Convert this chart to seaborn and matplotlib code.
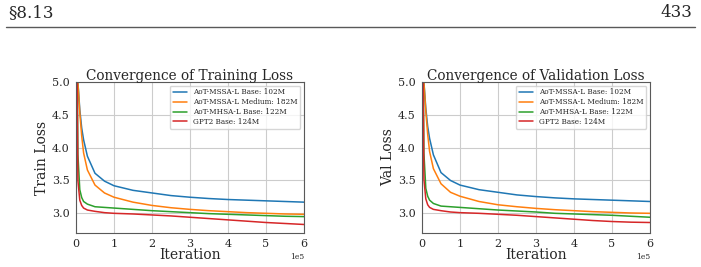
import numpy as np
import pandas as pd
import matplotlib.pyplot as plt
import seaborn as sns

iters = [0, 0.05, 0.1, 0.15, 0.2, 0.3, 0.5, 0.75, 1, 1.5, 2, 2.5, 3, 3.5, 4, 4.5, 5, 5.5, 6]

models = ["AoT-MSSA-L Base: 102M", "AoT-MSSA-L Medium: 182M",
          "AoT-MHSA-L Base: 122M", "GPT2 Base: 124M"]

train_mssa_base = [7.5, 5.0, 4.58, 4.3, 4.12, 3.87, 3.61, 3.49, 3.42, 3.35, 3.31, 3.27, 3.245, 3.225, 3.21, 3.2, 3.19, 3.18, 3.17]
train_mssa_med = [7.5, 5.0, 4.53, 4.18, 3.92, 3.66, 3.43, 3.31, 3.245, 3.17, 3.12, 3.085, 3.06, 3.04, 3.025, 3.01, 3.0, 2.99, 2.985]
train_mhsa_base = [7.5, 3.9, 3.36, 3.24, 3.18, 3.14, 3.10, 3.09, 3.08, 3.06, 3.04, 3.025, 3.01, 2.995, 2.985, 2.975, 2.965, 2.955, 2.95]
train_gpt2 = [7.5, 3.5, 3.2, 3.12, 3.08, 3.05, 3.03, 3.01, 3.0, 2.99, 2.975, 2.96, 2.94, 2.92, 2.90, 2.88, 2.86, 2.845, 2.83]

val_mssa_base = [7.5, 5.0, 4.6, 4.32, 4.14, 3.89, 3.62, 3.5, 3.43, 3.36, 3.32, 3.28, 3.255, 3.235, 3.22, 3.21, 3.2, 3.19, 3.18]
val_mssa_med = [7.5, 5.0, 4.55, 4.2, 3.94, 3.68, 3.45, 3.32, 3.26, 3.18, 3.13, 3.1, 3.075, 3.055, 3.04, 3.025, 3.015, 3.005, 3.0]
val_mhsa_base = [7.5, 3.92, 3.38, 3.26, 3.2, 3.15, 3.11, 3.1, 3.09, 3.07, 3.05, 3.035, 3.02, 3.0, 2.99, 2.98, 2.97, 2.955, 2.94]
val_gpt2 = [7.5, 3.52, 3.22, 3.13, 3.09, 3.06, 3.04, 3.02, 3.01, 3.0, 2.985, 2.97, 2.95, 2.93, 2.91, 2.89, 2.875, 2.865, 2.86]

colors = ["#1f77b4", "#ff7f0e", "#2ca02c", "#d62728"]


def to_long(series):
    rows = []
    for name, vals in zip(models, series):
        for it, v in zip(iters, vals):
            rows.append({"iter": it * 1e5, "loss": v, "model": name})
    return pd.DataFrame(rows)


train_df = to_long([train_mssa_base, train_mssa_med, train_mhsa_base, train_gpt2])
val_df = to_long([val_mssa_base, val_mssa_med, val_mhsa_base, val_gpt2])

sns.set_style("whitegrid", {"axes.edgecolor": "0.35", "grid.color": "0.8"})
plt.rcParams["font.family"] = ["DejaVu Serif"]

fig = plt.figure(figsize=(7.01, 2.67), dpi=100)

# page header
fig.text(0.012, 0.953, "§8.13", fontsize=12, va="center", ha="left")
fig.text(0.988, 0.953, "433", fontsize=12, va="center", ha="right")
fig.add_artist(plt.Line2D([0.008, 0.992], [0.9, 0.9], color="0.35", lw=1.0))

ax1 = fig.add_axes([0.1084, 0.1273, 0.3253, 0.5656])
ax2 = fig.add_axes([0.602, 0.1273, 0.3253, 0.5656])

for ax, df, title, ylab in [(ax1, train_df, "Convergence of Training Loss", "Train Loss"),
                            (ax2, val_df, "Convergence of Validation Loss", "Val Loss")]:
    sns.lineplot(data=df, x="iter", y="loss", hue="model", palette=colors,
                 ax=ax, lw=1.1)
    ax.set_xlim(0, 6e5)
    ax.set_ylim(2.7, 5.0)
    ax.set_yticks([3.0, 3.5, 4.0, 4.5, 5.0])
    ax.ticklabel_format(axis="x", style="sci", scilimits=(0, 0))
    ax.xaxis.get_offset_text().set_fontsize(5.5)
    ax.tick_params(labelsize=8, pad=1)
    ax.set_title(title, fontsize=9.8, pad=1.5)
    ax.set_xlabel("Iteration", fontsize=10, labelpad=-1)
    ax.set_ylabel(ylab, fontsize=10, labelpad=2)
    ax.legend(title=None, fontsize=5.2, loc="upper right", frameon=True,
              handlelength=2.0, borderpad=0.4, labelspacing=0.25)

fig.savefig("out.png", dpi=100)
